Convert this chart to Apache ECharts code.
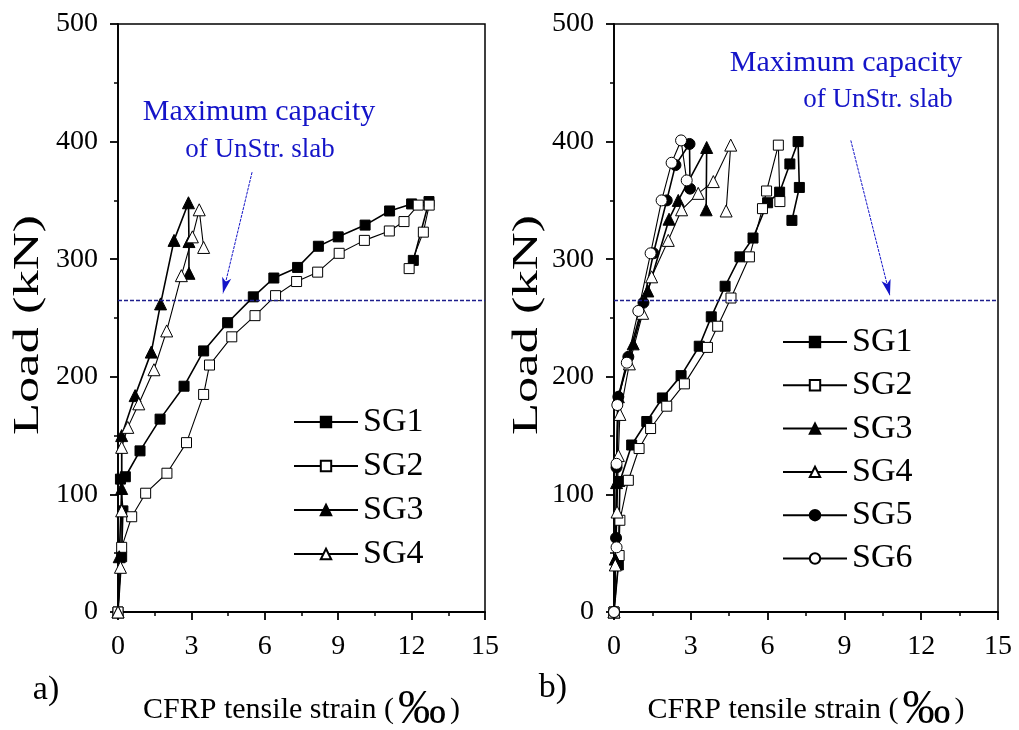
<!DOCTYPE html>
<html>
<head>
<meta charset="utf-8">
<script src="https://cdn.jsdelivr.net/npm/echarts@6/dist/echarts.min.js"></script>
<style>
html,body{margin:0;padding:0;background:#fff;}
#chart{width:1019px;height:730px;}
</style>
</head>
<body>
<div id="chart"></div>
<script>
// ---- data (strain ‰, load kN) ----
const xTicks = [0, 3, 6, 9, 12, 15];
const yTicks = [0, 100, 200, 300, 400, 500];
const seriesNamesA = ['SG1', 'SG2', 'SG3', 'SG4'];
const seriesNamesB = ['SG1', 'SG2', 'SG3', 'SG4', 'SG5', 'SG6'];
const maxCapacity = 265;

const aSG1 = [[0,0],[0.15,47],[0.2,86],[0.1,113],[0.3,115],[0.9,137],[1.72,164],[2.7,192],[3.5,222],[4.48,246],[5.53,268],[6.37,284],[7.34,293],[8.19,311],[9.0,319],[10.1,329],[11.1,341],[12.0,347],[12.71,349],[12.07,299]];
const aSG2 = [[0,0],[0.15,55],[0.56,81],[1.13,101],[2.0,118],[2.8,144],[3.5,185],[3.74,210],[4.65,234],[5.6,252],[6.44,269],[7.3,281],[8.16,289],[9.04,305],[10.07,316],[11.09,324],[11.69,332],[12.27,346],[12.72,346],[12.48,323],[11.9,292]];
const aSG3 = [[0,0],[0.05,47],[0.15,105],[0.15,150],[0.7,184],[1.36,221],[1.74,262],[2.29,316],[2.88,348],[2.9,315],[2.9,288]];
const aSG4 = [[0,0],[0.1,38],[0.15,86],[0.15,140],[0.4,157],[0.85,177],[1.47,206],[1.99,239],[2.59,286],[3.04,319],[3.32,342],[3.5,310]];

const bSG1 = [[0,0],[0.17,40],[0.23,111],[0.69,142],[1.28,162],[1.89,182],[2.62,201],[3.33,226],[3.8,251],[4.34,277],[4.92,302],[5.43,318],[6.0,348],[6.47,357],[6.87,381],[7.19,400],[7.24,361],[6.95,333]];
const bSG2 = [[0,0],[0.2,48],[0.23,78],[0.56,112],[0.98,139],[1.43,156],[2.06,175],[2.75,194],[3.65,225],[4.05,243],[4.57,267],[5.29,302],[5.8,343],[5.96,358],[6.42,397],[6.48,349]];
const bSG3 = [[0,0],[0.05,45],[0.1,110],[0.17,183],[0.75,228],[1.32,273],[2.15,334],[2.51,350],[3.62,395],[3.6,342]];
const bSG4 = [[0,0],[0.05,40],[0.12,85],[0.17,133],[0.23,168],[0.6,211],[1.12,254],[1.47,285],[2.12,316],[2.64,342],[3.29,356],[3.88,366],[4.56,397],[4.38,341]];
const bSG5 = [[0,0],[0.08,63],[0.1,123],[0.17,183],[0.56,217],[1.15,263],[1.54,305],[2.06,350],[2.4,380],[2.95,398],[2.97,360]];
const bSG6 = [[0,0],[0.1,55],[0.1,126],[0.13,176],[0.5,212],[0.95,256],[1.43,305],[1.86,350],[2.25,382],[2.62,401],[2.84,367]];

// annotation arrows: [start, end] in data coordinates
const arrowA = [[5.48,374],[4.29,271]];
const arrowB = [[9.25,401],[10.78,269]];

// ---- styles ----
const FONT = "'Liberation Serif','Times New Roman',serif";
const BLUE = '#1414c8';
const NAVY = '#1e1e8c';
const styles = {
  SG1: {symbol:'rect', size:10, fill:'#000', width:1.6},
  SG2: {symbol:'rect', size:10, fill:'#fff', width:1.1},
  SG3: {symbol:'triangle', size:12, fill:'#000', width:1.6},
  SG4: {symbol:'triangle', size:12, fill:'#fff', width:1.1},
  SG5: {symbol:'circle', size:11, fill:'#000', width:1.6},
  SG6: {symbol:'circle', size:11, fill:'#fff', width:1.1}
};

function mkSeries(name, data, idx) {
  const s = styles[name];
  return {
    name: name, type: 'line', data: data,
    xAxisIndex: idx, yAxisIndex: idx,
    symbol: s.symbol, symbolSize: s.size, showAllSymbol: true,
    lineStyle: {color:'#000', width: s.width},
    itemStyle: {color: s.fill, borderColor:'#000', borderWidth: 1},
    emphasis: {disabled: true},
    animation: false, z: 3
  };
}

function helper(idx, arrow) {
  return {
    type:'line', data: [], xAxisIndex: idx, yAxisIndex: idx, silent: true, animation:false,
    markLine: {
      silent: true, animation: false, symbol: ['none','none'],
      label: {show:false},
      data: [
        {yAxis: maxCapacity, lineStyle:{type:[4,2], color: NAVY, width: 1.3}},
        [{coord: arrow[0], symbol:'none', lineStyle:{type:[3,1], color: BLUE, width: 1}},
         {coord: arrow[1], symbol:'arrow', symbolSize:[7,16]}]
      ]
    }
  };
}

function xAxisCfg(idx) {
  return {
    type:'value', gridIndex: idx, min: xTicks[0], max: xTicks[xTicks.length-1], interval: 3,
    name: '{t|CFRP tensile strain (}{p|‰}{t|)}', nameLocation:'middle', nameGap: 74,
    nameTextStyle: {fontFamily: FONT, fontSize: 30, color:'#000',
      rich: {t: {fontFamily: FONT, fontSize: 30, color:'#000'},
             p: {fontFamily: FONT, fontSize: 48, color:'#000', padding:[0, 4, 0, 4]}}},
    axisLine: {show:true, lineStyle:{color:'#000', width:1.8}},
    axisTick: {show:true, inside:false, length:8, lineStyle:{color:'#000', width:1.8}},
    minorTick: {show:true, splitNumber:2, length:4, lineStyle:{color:'#000', width:1.5}},
    axisLabel: {fontFamily: FONT, fontSize: 28, color:'#000', margin: 21},
    splitLine: {show:false}
  };
}
function yAxisCfg(idx) {
  return {
    type:'value', gridIndex: idx, min: yTicks[0], max: yTicks[yTicks.length-1], interval: 100,
    axisLine: {show:true, lineStyle:{color:'#000', width:1.8}},
    axisTick: {show:true, inside:false, length:8, lineStyle:{color:'#000', width:1.8}},
    minorTick: {show:true, splitNumber:2, length:4, lineStyle:{color:'#000', width:1.5}},
    axisLabel: {fontFamily: FONT, fontSize: 28, color:'#000', margin: 20},
    splitLine: {show:false}
  };
}

const chart = echarts.init(document.getElementById('chart'), null, {renderer:'canvas'});
const series = [];
[aSG1, aSG2, aSG3, aSG4].forEach((d, i) => series.push(mkSeries(seriesNamesA[i], d, 0)));
[bSG1, bSG2, bSG3, bSG4, bSG5, bSG6].forEach((d, i) => series.push(mkSeries(seriesNamesB[i], d, 1)));
series.push(helper(0, arrowA));
series.push(helper(1, arrowB));

const legendText = {fontFamily: FONT, fontSize: 34, color:'#000', lineHeight: 32};
const annFont1 = "30px 'Liberation Serif', serif";
const annFont2 = "27px 'Liberation Serif', serif";
const yNameStyle = {text:'Load (kN)', font:"35px 'Liberation Serif', serif", fill:'#000', textAlign:'center', textVerticalAlign:'middle'};
const option = {
  backgroundColor: '#fff',
  animation: false,
  grid: [
    {left:118, top:24, width:367, height:588, show:true, borderColor:'#000', borderWidth:1.5, backgroundColor:'transparent', containLabel:false, outerBoundsMode:'none'},
    {left:614, top:24, width:384, height:588, show:true, borderColor:'#000', borderWidth:1.5, backgroundColor:'transparent', containLabel:false, outerBoundsMode:'none'}
  ],
  xAxis: [xAxisCfg(0), xAxisCfg(1)],
  yAxis: [yAxisCfg(0), yAxisCfg(1)],
  legend: [
    {data: seriesNamesA, orient:'vertical', left: 288, top: 400, itemWidth: 64, itemHeight: 13, itemGap: 10,
     textStyle: legendText, selectedMode: false},
    {data: seriesNamesB, orient:'vertical', left: 777, top: 320, itemWidth: 64, itemHeight: 13, itemGap: 9.3,
     textStyle: legendText, selectedMode: false}
  ],
  graphic: [
    {type:'text', x:29, y:325, rotation: Math.PI/2, scaleX: 1.5, style: yNameStyle},
    {type:'text', x:528, y:325, rotation: Math.PI/2, scaleX: 1.5, style: yNameStyle},
    {type:'text', x:259, y:112, style:{text:'Maximum capacity', font:annFont1, fill:BLUE, textAlign:'center', textVerticalAlign:'middle'}},
    {type:'text', x:260, y:150, style:{text:'of UnStr. slab', font:annFont2, fill:BLUE, textAlign:'center', textVerticalAlign:'middle'}},
    {type:'text', x:846, y:63, style:{text:'Maximum capacity', font:annFont1, fill:BLUE, textAlign:'center', textVerticalAlign:'middle'}},
    {type:'text', x:878, y:100, style:{text:'of UnStr. slab', font:annFont2, fill:BLUE, textAlign:'center', textVerticalAlign:'middle'}},
    {type:'text', x:46, y:690, style:{text:'a)', font:"34px 'Liberation Serif', serif", fill:'#000', textAlign:'center', textVerticalAlign:'middle'}},
    {type:'text', x:553, y:688, style:{text:'b)', font:"34px 'Liberation Serif', serif", fill:'#000', textAlign:'center', textVerticalAlign:'middle'}}
  ],
  series: series
};
chart.setOption(option);
</script>
</body>
</html>
